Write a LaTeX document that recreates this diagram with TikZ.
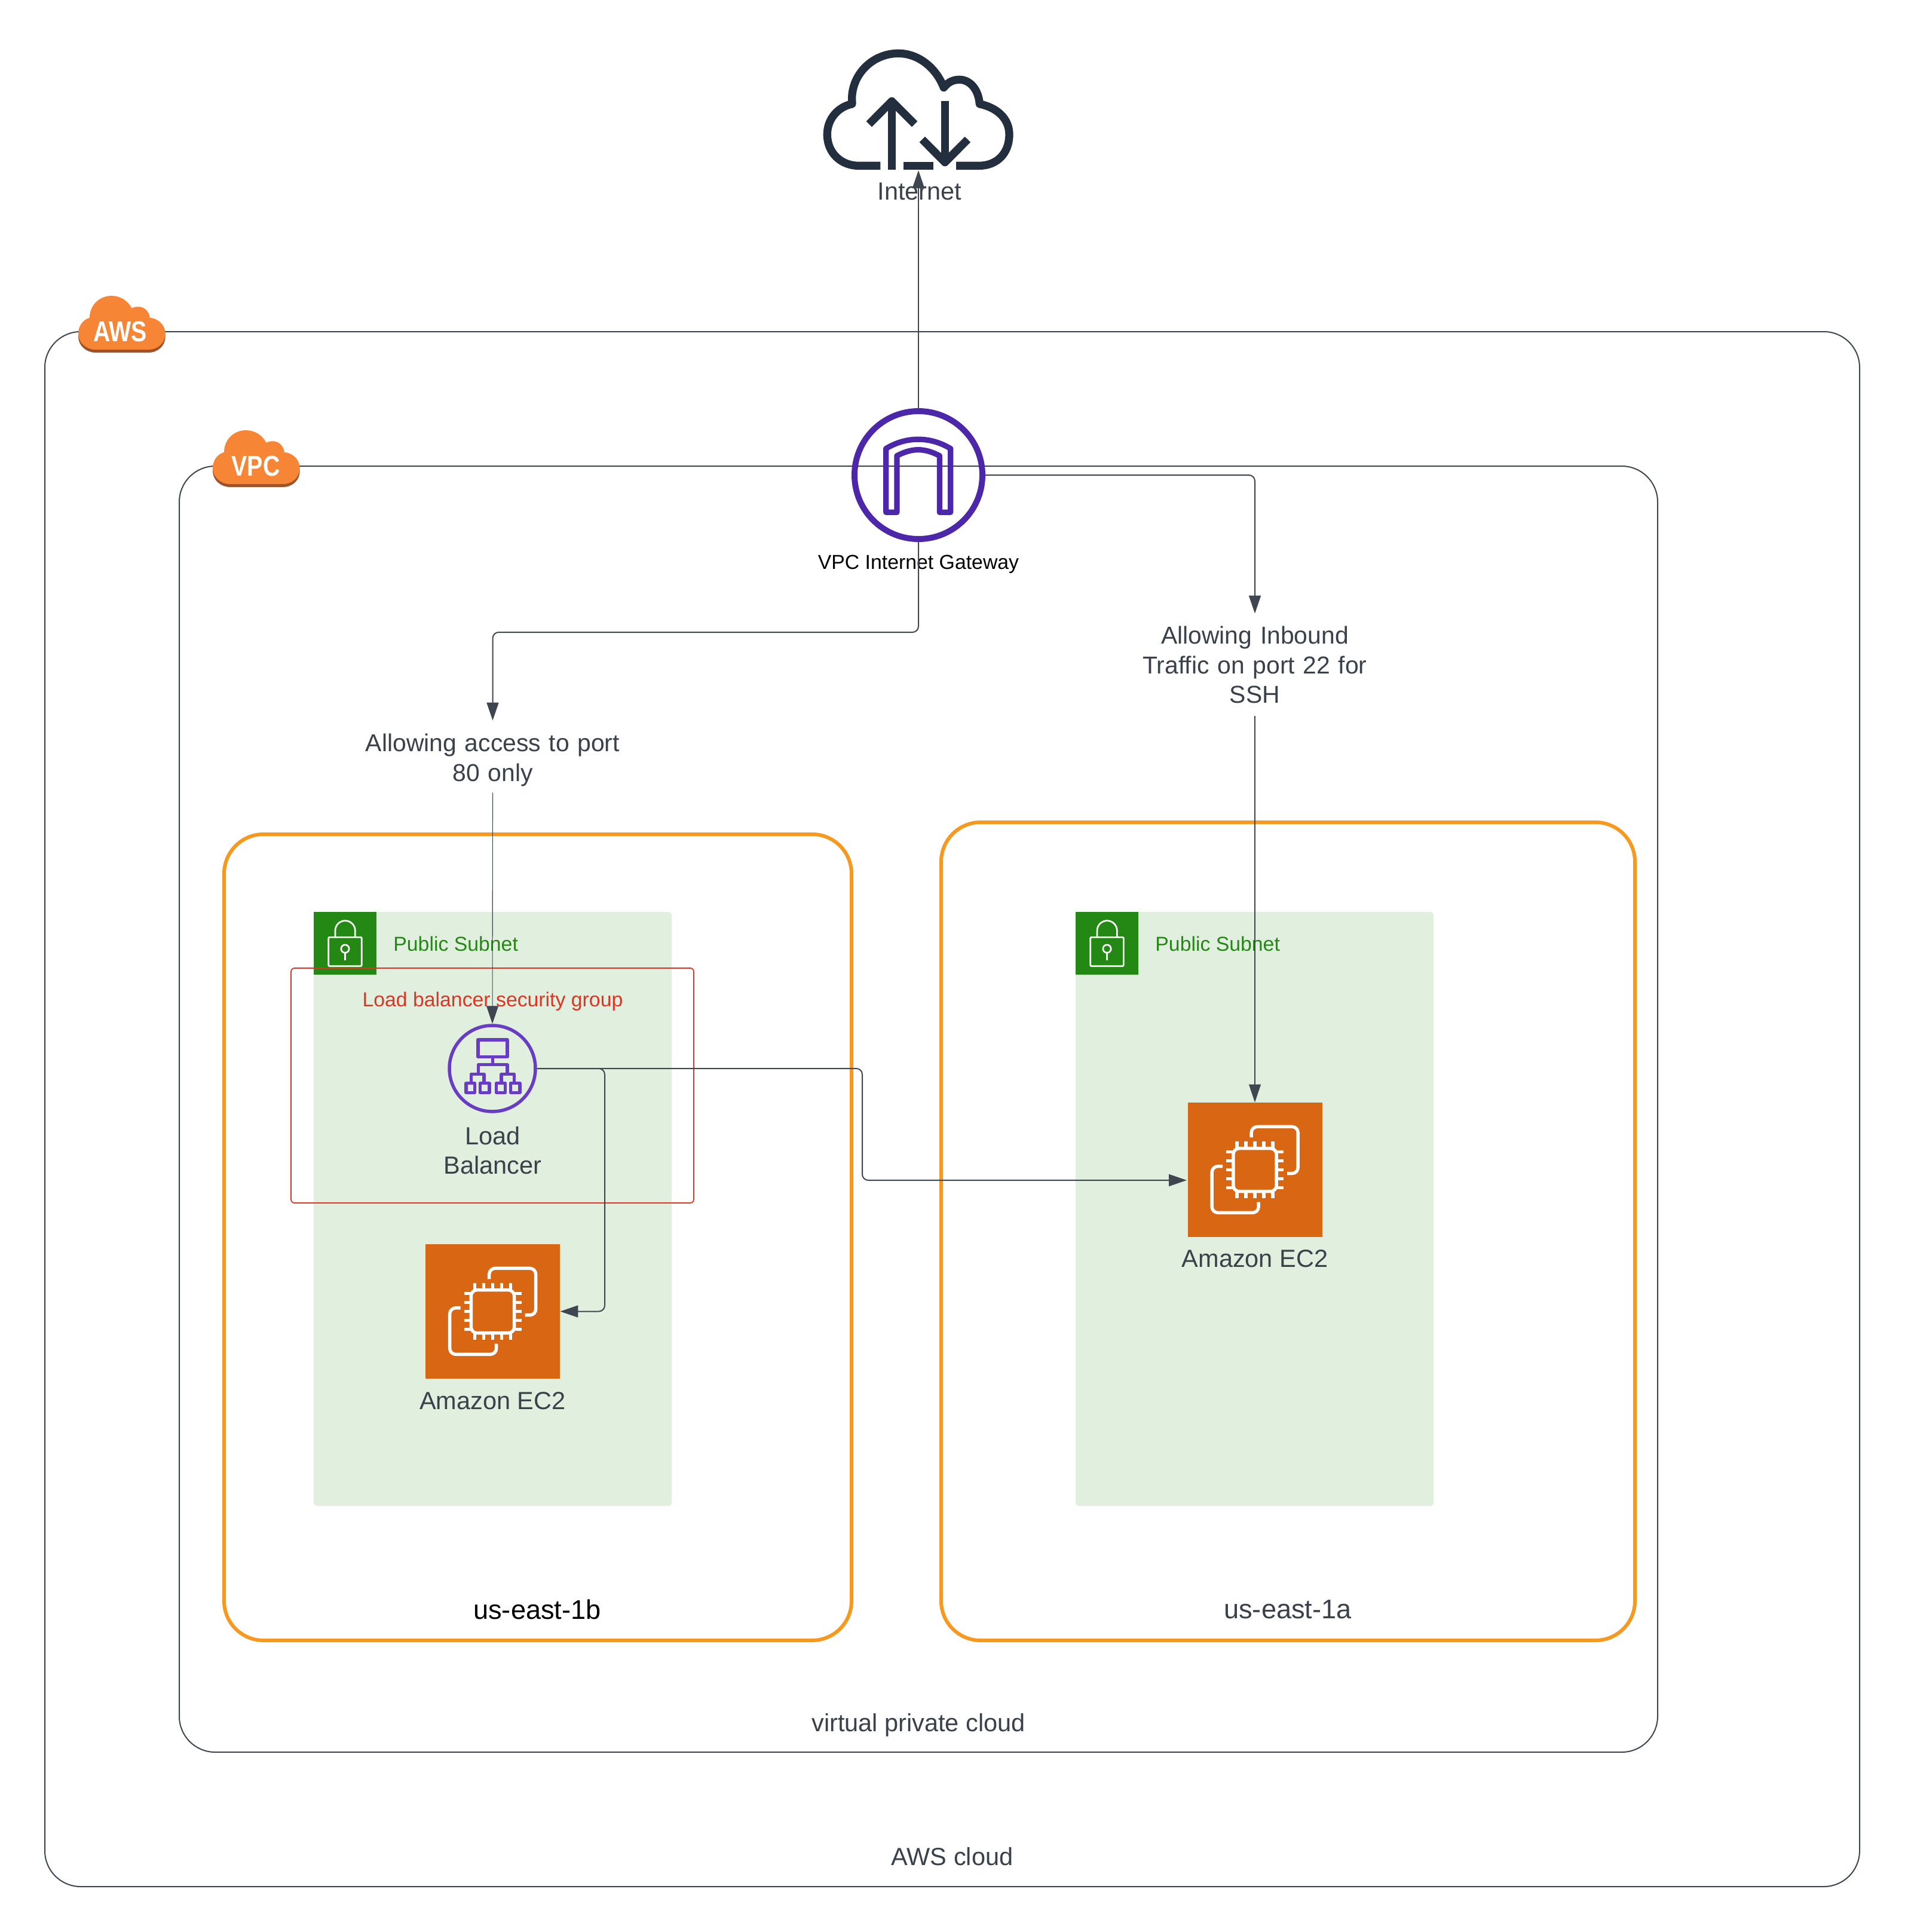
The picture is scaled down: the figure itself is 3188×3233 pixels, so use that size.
\documentclass[tikz,border=0pt]{standalone}
\usepackage{fontspec}
\setmainfont{Liberation Sans}
\newfontfamily\badgefont[FakeStretch=0.82]{Liberation Sans}
\usetikzlibrary{arrows.meta}
\definecolor{inkc}{HTML}{3A414A}
\definecolor{linec}{HTML}{3F4650}
\definecolor{azc}{HTML}{F7981F}
\definecolor{subnetbg}{HTML}{E1EFDE}
\definecolor{subnetc}{HTML}{248814}
\definecolor{redc}{HTML}{DD3522}
\definecolor{lbc}{HTML}{693CC5}
\definecolor{igwc}{HTML}{4D27AA}
\definecolor{ec2c}{HTML}{D86613}
\definecolor{cloudc}{HTML}{232F3E}
\definecolor{badgec}{HTML}{F68536}
\definecolor{badgeshade}{HTML}{9F5228}
\newcommand{\mainsize}{\fontsize{20.75}{24.75}\selectfont}
\newcommand{\flowsize}{\fontsize{20.45}{24.75}\selectfont}
\newcommand{\azsize}{\fontsize{22.6}{24.75}\selectfont}
\newcommand{\smallsize}{\fontsize{16.9}{20}\selectfont}
\tikzset{
  x=0.5pt,y=-0.5pt,
  box/.style={draw=linec,line width=1pt,rounded corners=30pt,inner sep=0pt},
  azbox/.style={draw=azc,line width=3pt,rounded corners=33pt,inner sep=0pt},
  subnetbox/.style={fill=subnetbg,rounded corners=3pt,inner sep=0pt},
  sgbox/.style={draw=redc,line width=0.9pt,rounded corners=3pt,inner sep=0pt},
  label/.style={text=inkc,font=\mainsize,align=center,inner sep=0pt},
  smalllabel/.style={font=\smallsize,align=center,inner sep=0pt},
  conn/.style={draw=linec,line width=1pt,rounded corners=5pt,-{Triangle[length=15pt,width=10pt]}},
  thinconn/.style={draw=linec,line width=0.55pt,-{Triangle[length=15pt,width=10pt]}},
  flowlabel/.style={label,font=\flowsize,text width=230pt},
  ec2box/.style={fill=ec2c,minimum size=112.5pt,inner sep=0pt},
  ec2icon/.pic={
    \begin{scope}[scale=1/3,draw=white,line width=2.7pt]
      \draw[rounded corners=5pt] (-108.5,-107.5) rectangle (108.5,108.5);
      \foreach \d in {-90,-45,0,45,90}{
        \draw (\d,-142.5) -- (\d,-107.5);
        \draw (\d,108.5) -- (\d,143.5);
        \draw (-143.5,\d) -- (-108.5,\d);
        \draw (108.5,\d) -- (144.5,\d);
      }
      \draw[rounded corners=5pt] (-17.5,-162.5) -- (-17.5,-216.5) -- (216.5,-216.5) -- (216.5,18.5) -- (162.5,18.5);
      \draw[rounded corners=5pt] (-161.5,-17.5) -- (-215.5,-17.5) -- (-215.5,215.5) -- (18.5,215.5) -- (18.5,162.5);
    \end{scope}
  },
  lockicon/.pic={
    \begin{scope}[scale=1/3,draw=white,line width=1.35pt]
      \draw[rounded corners=1pt] (-83.5,-30.5) rectangle (83.5,114.5);
      \draw (-49.5,-30.5) -- (-49.5,-63.5) arc[start angle=180,end angle=360,radius=50] -- (50.5,-30.5);
      \draw (0,27.5) circle[radius=20];
      \draw (0,49.5) -- (0,86.5);
    \end{scope}
  },
  badge/.pic={
    \fill[badgeshade,yshift=-2.5pt] (29,90) -- (117.3,90) .. controls (134,90) and (145.7,78) .. (145.7,63.3) .. controls (145.7,49) and (134,38) .. (119.7,36.7) .. controls (119,26) and (110,18.3) .. (100.7,18.3) .. controls (96,18.3) and (92,19) .. (89.7,21) .. controls (83,8) and (70,0) .. (55.7,0) .. controls (35,0) and (19,16) .. (19,36.7) .. controls (8,40) and (0,50) .. (0,63.3) .. controls (0,78) and (13,90) .. (29,90) -- cycle;
    \fill[badgec] (29,90) -- (117.3,90) .. controls (134,90) and (145.7,78) .. (145.7,63.3) .. controls (145.7,49) and (134,38) .. (119.7,36.7) .. controls (119,26) and (110,18.3) .. (100.7,18.3) .. controls (96,18.3) and (92,19) .. (89.7,21) .. controls (83,8) and (70,0) .. (55.7,0) .. controls (35,0) and (19,16) .. (19,36.7) .. controls (8,40) and (0,50) .. (0,63.3) .. controls (0,78) and (13,90) .. (29,90) -- cycle;
  },
  badgetext/.style={text=white,inner sep=0pt,font=\badgefont\bfseries\fontsize{24}{24}\selectfont},
}
\begin{document}
\begin{tikzpicture}
\useasboundingbox (0,0) rectangle (3188,3233);
\fill[white] (0,0) rectangle (3188,3233);

% containers
\node[box,minimum width=1518.5pt,minimum height=1301pt] (awsbox) at (1593.5,1856) {};
\node[box,minimum width=1237pt,minimum height=1076pt] (vpcbox) at (1537,1856) {};
\node[azbox,minimum width=525pt,minimum height=674.5pt] (azb) at (900,2070.5) {};
\node[azbox,minimum width=580.5pt,minimum height=684.5pt] (aza) at (2155.5,2060.5) {};
\node[subnetbox,minimum width=299.5pt,minimum height=497pt] (subnetb) at (824.5,2023) {};
\node[subnetbox,minimum width=299.5pt,minimum height=497pt] (subneta) at (2099.5,2023) {};

% badges
\pic at (131,495) {badge};
\node[badgetext] (awsbadgetext) at (201,555) {AWS};
\pic at (356,720) {badge};
\node[badgetext] (vpcbadgetext) at (428,780) {VPC};

% subnet markers
\node[fill=subnetc,minimum size=52.5pt,inner sep=0pt] (lockb) at (577.5,1578.5) {};
\pic at (lockb.center) {lockicon};
\node[fill=subnetc,minimum size=52.5pt,inner sep=0pt] (locka) at (1852.5,1578.5) {};
\pic at (locka.center) {lockicon};
\node[smalllabel,text=subnetc,anchor=west] (subnetbtext) at (658,1579) {Public Subnet};
\node[smalllabel,text=subnetc,anchor=west] (subnetatext) at (1933,1579) {Public Subnet};

% security group
\node[sgbox,minimum width=337pt,minimum height=196.5pt] (sg) at (824,1816.5) {};
\node[smalllabel,text=redc] (sgtext) at (824.5,1676) {Load balancer security group};

% internet cloud
\begin{scope}[shift={(1340,50)},scale=1/3,draw=cloudc,line width=6.67pt,line join=round]
  \draw (400,682) -- (290,682) .. controls (205,682) and (133,620) .. (133,525) .. controls (133,445) and (190,385) .. (258,372) -- (257,345) .. controls (258,220) and (363,118) .. (490,118) .. controls (590,118) and (680,190) .. (718,290) .. controls (740,262) and (765,250) .. (797,250) .. controls (850,250) and (893,300) .. (898,372) .. controls (985,390) and (1047,445) .. (1047,525) .. controls (1047,620) and (985,682) .. (895,682) -- (780,682);
  \draw (515,682) -- (665,682);
  \draw (457,702) -- (457,360);
  \draw (343,473) -- (457,358) -- (572,473);
  \draw (724,358) -- (724,665);
  \draw (610,550) -- (724,665) -- (838,550);
\end{scope}
\coordinate (internetpt) at (1537,285);
\node[label] (internet) at (1539,320) {Internet};

% gateway
\node[circle,draw=igwc,line width=5pt,minimum size=107pt,inner sep=0pt] (igw) at (1537,795) {};
\begin{scope}[shift={(1390,660)},scale=1/3,draw=igwc,line width=4.6pt,line join=round]
  \draw (278,592) -- (278,272) .. controls (380,210) and (500,210) .. (602,272) -- (602,592) -- (547,592) -- (547,308) .. controls (470,268) and (410,268) .. (333,308) -- (333,592) -- cycle;
\end{scope}
\node[smalllabel,text=black] (igwtext) at (1537,944) {VPC Internet Gateway};

% flow labels
\node[flowlabel,minimum height=54pt] (access) at (824.5,1272) {Allowing access to port\\80 only};
\node[flowlabel,minimum height=85.5pt] (inbound) at (2100,1112.5) {Allowing Inbound\\Traffic on port 22 for\\SSH};

% load balancer
\node[circle,draw=lbc,line width=2.75pt,minimum size=72pt,inner sep=0pt] (lb) at (824,1788) {};
\begin{scope}[shift={(500,1500)},scale=1/3,draw=lbc,line width=2.7pt,line join=round]
  \draw (900,720) rectangle (1047,805);
  \draw (974,805) -- (974,845);
  \draw (901,892) -- (901,845) -- (1047,845) -- (1047,892);
  \draw (866,938) -- (866,892) -- (930,892) -- (930,938);
  \draw (1017,938) -- (1017,892) -- (1082,892) -- (1082,938);
  \draw (840,938) rectangle (883,985);
  \draw (910,938) rectangle (957,985);
  \draw (992,938) rectangle (1037,985);
  \draw (1063,938) rectangle (1110,985);
\end{scope}
\node[label] (lbtext) at (824.5,1925) {Load\\Balancer};

% EC2
\node[ec2box] (ec2b) at (824.5,2194.5) {};
\pic at (ec2b.center) {ec2icon};
\node[label] (ec2btext) at (824.5,2344) {Amazon EC2};
\node[ec2box] (ec2a) at (2100,1957.5) {};
\pic at (ec2a.center) {ec2icon};
\node[label] (ec2atext) at (2100,2106) {Amazon EC2};

% container labels
\node[label,font=\azsize,text=black] (azbtext) at (899,2693) {us-east-1b};
\node[label,font=\azsize] (azatext) at (2155,2693) {us-east-1a};
\node[label] (vpctext) at (1537,2887) {virtual private cloud};
\node[label] (awstext) at (1593.5,3107) {AWS cloud};

% connectors
\coordinate (turnaccess) at (1537,1058);
\coordinate (lbbusb) at (1012,1788);
\coordinate (lbbusa) at (1443,1788);
\coordinate (ec2aentry) at (1986,1975);
\draw[conn] (igw.north) -- (internetpt);
\draw[conn] (igw.east) -| (inbound.north);
\draw[conn,shorten >=6pt] (igw.south) -- (turnaccess) -| (access.north);
\draw[thinconn] (access.south) -- (lb.north);
\draw[thinconn] (inbound.south) -- (ec2a.north);
\draw[conn] (lb.east) -- (lbbusb) |- (ec2b.east);
\draw[conn] (lb.east) -- (lbbusa) |- (ec2aentry);
\end{tikzpicture}
\end{document}
